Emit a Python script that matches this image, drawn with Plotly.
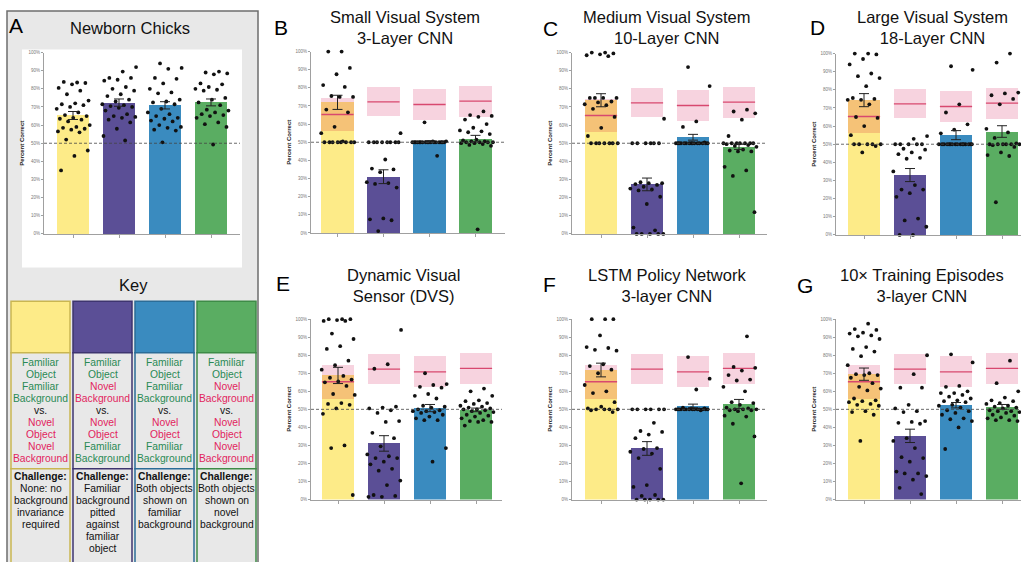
import plotly.graph_objects as go

# ------------------------------------------------------------------ data
categories = ["FO-FB vs NO-NB", "FO-NB vs NO-FB", "FO-FB vs NO-FB", "FO-NB vs NO-NB"]
bar_colors = ["#FDEB88", "#5B4F96", "#3A8BBF", "#5AAD62"]
tick_values = [0, 10, 20, 30, 40, 50, 60, 70, 80, 90, 100]
tick_labels = [f"{v}%" for v in tick_values]
chance_level = 50

# newborn-chick reference (red line = mean, pink band = range) shown on model panels
chick_mean = [65.3, 72.3, 70.8, 72.7]
chick_band_low = [56.0, 64.2, 62.2, 64.0]
chick_band_high = [74.5, 80.5, 79.5, 81.0]

panel_titles = {
    "A": "Newborn Chicks",
    "B": "Small Visual System<br>3-Layer CNN",
    "C": "Medium Visual System<br>10-Layer CNN",
    "D": "Large Visual System<br>18-Layer CNN",
    "E": "Dynamic Visual<br>Sensor (DVS)",
    "F": "LSTM Policy Network<br>3-layer CNN",
    "G": "10× Training Episodes<br>3-layer CNN",
}

A_means = [65.3, 72.4, 70.9, 72.5]
A_sems = [2.2, 2.0, 2.0, 1.9]
A_points = [
    [83.5, 83.8, 83.2, 82.5, 80.5, 79, 77, 73.5, 72, 71.5, 71, 70, 69, 67, 65.5, 65, 64, 63.5, 63, 62, 60, 59, 58.5, 58, 57.5, 56.5, 56, 52, 46, 43, 35],
    [92, 89.5, 86, 86, 85, 84.5, 81, 80, 79, 77, 76, 74, 73, 71.5, 71, 70.5, 70, 69.5, 68, 66, 65, 64.5, 64, 63, 61.5, 58, 54, 51.5],
    [94, 91.5, 91, 86, 85.5, 83, 80, 78, 77.5, 74, 73, 72.5, 71.5, 69, 67, 66, 65, 64, 63.5, 62.5, 62, 60, 59, 58.5, 57.5, 57, 50.5],
    [89.5, 89, 88.5, 88, 83, 82.5, 81, 80, 79.5, 79, 75, 74, 72.5, 71, 68.5, 68, 67, 66, 65.5, 65, 64, 61.5, 60.5, 59, 49.3],
]

B_means = [72.0, 31.0, 50.3, 52.0]
B_sems = [3.9, 3.8, 0.5, 1.8]
B_points = [
    [100, 100, 91, 87.5, 81.5, 80.5, 75.5, 75, 75, 68, 66.5, 58.5, 55, 50.5, 50, 50, 50, 50, 50, 50, 50, 50],
    [55, 50, 50, 50, 50, 50, 50, 50, 50, 40.5, 35.5, 35, 33.5, 28, 27.5, 27, 25, 8, 7.5, 7, 1],
    [61, 50.5, 50.5, 50, 50, 50, 50, 50, 50, 50, 50, 50, 50, 50, 50, 50, 50, 50, 50, 50, 42.5],
    [67, 65, 64.5, 64, 62.5, 60, 58, 56.5, 56, 55.5, 54.5, 51.5, 51, 50.5, 50.5, 50, 50, 50, 50, 49.5, 49.5, 49, 48.5, 48, 2],
]

C_means = [73.7, 27.3, 53.3, 48.0]
C_sems = [3.6, 3.5, 1.6, 1.4]
C_points = [
    [100, 100, 99.5, 99, 98.5, 98, 75, 75, 75, 75, 73, 72.5, 71.5, 71, 69, 64.5, 58.5, 54, 50, 50, 50, 50, 50, 50, 50],
    [63.5, 50, 50, 50, 50, 50, 50, 28.5, 28, 28, 27.5, 27, 26, 25, 24.5, 24, 20.5, 16.5, 3.5, 2, 0, 0, 0, 0, 0],
    [92, 81.5, 62, 59, 50.5, 50, 50, 50, 50, 50, 50, 50, 50, 50, 50, 50, 50, 50, 50, 50],
    [68.5, 67.5, 66.5, 63, 54, 50, 50, 50, 50, 50, 50, 50, 49.5, 49, 48.5, 48, 46.5, 46, 45.5, 45.5, 37, 35, 32, 12],
]

D_means = [74.3, 33.0, 55.0, 57.0]
D_sems = [3.6, 3.6, 2.5, 3.2]
D_points = [
    [100, 100, 99.5, 97, 94, 89, 87.5, 86.5, 82, 75.5, 75, 74.5, 74.5, 72, 65, 64.5, 60, 55, 50, 50, 50, 50, 50, 49, 45.5],
    [54.5, 53, 50, 50, 50, 50, 50, 47.5, 47, 45.5, 44.5, 42.5, 42, 35, 27.5, 25, 25, 23, 21, 9, 8, 4.5, 0, 0],
    [93, 91, 72, 67.5, 61, 58, 56, 50, 50, 50, 50, 50, 50, 50, 50, 50, 50, 50, 50, 50, 50, 50, 50],
    [100, 95, 78.5, 78, 77, 75, 72, 58.5, 56.5, 53.5, 50.5, 50, 50, 50, 50, 50, 50, 49.5, 48.5, 45.5, 44, 43.5, 18],
]

E_means = [68.8, 31.1, 50.7, 49.7]
E_sems = [4.5, 4.3, 2.0, 1.0]
E_points = [
    [100, 100, 100, 99.5, 99, 99, 92, 89, 85, 83.5, 77, 74.5, 72, 68.5, 67.5, 66.5, 65.5, 65, 63, 58.5, 58, 53.5, 53, 52.5, 50.5, 47.5, 30, 28.5, 2.5],
    [94, 75, 72.5, 51.5, 51, 50.5, 49.5, 48, 43.5, 43, 37, 34, 29.5, 25, 24, 23, 23, 21, 19.5, 17, 16, 10.5, 8, 2.5, 2, 1.5, 1.5],
    [70, 64, 63.5, 62.5, 62, 58.5, 57.5, 56, 52, 51.5, 51, 50, 49.5, 49, 49, 48.5, 48, 47, 46, 45, 44, 44, 28.5, 21],
    [61.5, 60, 57.5, 55, 54.5, 53.5, 53, 52, 51.5, 51, 50.5, 50, 50, 49.5, 49, 48.5, 48, 47, 46.5, 46, 45, 44, 43.5, 43, 43, 41],
]

F_means = [71.8, 28.3, 51.9, 53.0]
F_sems = [3.8, 3.8, 1.0, 2.5]
F_points = [
    [100, 100, 100, 91, 84.5, 84, 83, 82.5, 75, 74, 72, 70, 63.5, 60, 59, 54, 51.5, 50.5, 50, 50, 50, 50, 49.5, 48.5],
    [50, 50, 50, 50, 50, 50, 42.5, 38, 37.5, 36, 34, 28.5, 28, 26.5, 25.5, 23, 17, 8, 7, 2.5, 2, 0, 0, 0, 0, 0],
    [79, 67, 61, 51, 50.5, 50.5, 50, 50, 50, 50, 50, 50, 50, 50, 50, 50, 50, 50, 50, 50, 49.5],
    [90.5, 73.5, 73, 71.5, 69, 66.5, 66, 62.5, 60, 54, 53.5, 52.5, 51, 50.5, 50, 50, 50, 49.5, 49.5, 49, 46.5, 46, 42, 35, 9],
]

G_means = [69.5, 35.3, 52.3, 51.4]
G_sems = [3.4, 3.7, 1.5, 1.3]
G_points = [
    [97.5, 94.5, 94, 92.5, 92, 91, 90.5, 89, 84.5, 83.5, 82, 79.5, 74.5, 70, 69.5, 69, 69, 67.5, 64.5, 62.5, 61.5, 60.5, 56, 55, 54.5, 54, 53, 52.5, 52, 49, 48.5, 47, 32.5],
    [80, 69.5, 62, 62, 52.5, 50.5, 49, 48.5, 43.5, 43, 42.5, 42, 34, 32.5, 28.5, 23.5, 23, 21, 15.5, 14.5, 14.5, 13, 11, 6.5, 3],
    [80.5, 76, 63, 62.5, 60, 59, 59, 58, 57, 56, 55, 54.5, 54, 52.5, 52, 51, 49.5, 49, 48, 47, 45, 44.5, 43.5, 40, 28],
    [77, 64.5, 60, 56.5, 55, 54.5, 53.5, 53, 52, 51.5, 51, 50.5, 49.5, 49, 49, 48.5, 48, 47, 46.5, 45.5, 45, 44, 44, 43.5],
]

# key texts (G = familiar/green, R = novel/red, K = black)
key_desc = [
    [("Familiar", "G"), ("Object", "G"), ("Familiar", "G"), ("Background", "G"), ("vs.", "K"), ("Novel", "R"), ("Object", "R"), ("Novel", "R"), ("Background", "R")],
    [("Familiar", "G"), ("Object", "G"), ("Novel", "R"), ("Background", "R"), ("vs.", "K"), ("Novel", "R"), ("Object", "R"), ("Familiar", "G"), ("Background", "G")],
    [("Familiar", "G"), ("Object", "G"), ("Familiar", "G"), ("Background", "G"), ("vs.", "K"), ("Novel", "R"), ("Object", "R"), ("Familiar", "G"), ("Background", "G")],
    [("Familiar", "G"), ("Object", "G"), ("Novel", "R"), ("Background", "R"), ("vs.", "K"), ("Novel", "R"), ("Object", "R"), ("Novel", "R"), ("Background", "R")],
]
key_challenge = [
    ["None: no", "background", "invariance", "required"],
    ["Familiar", "background", "pitted", "against", "familiar", "object"],
    ["Both objects", "shown on", "familiar", "background"],
    ["Both objects", "shown on", "novel", "background"],
]

# ------------------------------------------------------------------ style / layout
W, H = 1021, 562
FONT = "Liberation Sans, Arial, Helvetica, sans-serif"
PINK = (247, 211, 223)
RED_LINE = "#D8486F"
TEXT_COLORS = {"G": "#2A8A55", "R": "#E2245E", "K": "#111111"}
key_border = ["#C9B651", "#3E356F", "#2B6C97", "#3E8B47"]
BAR_W = 0.7
PX_PER_CAT = 46.0

# (name, means, sems, points, show chick reference, (x_axis_px, first_center_px, x_end_px, y100_px, y0_px), title center, letter pos)
panels = [
    ("A", A_means, A_sems, A_points, False, (44, 73, 240, 51, 234), (130, 26), (16, 24)),
    ("B", B_means, B_sems, B_points, True, (311, 337.5, 505, 50, 233), (405, 26), (281, 26)),
    ("C", C_means, C_sems, C_points, True, (572, 601, 767, 51, 234), (667, 26), (550, 27)),
    ("D", D_means, D_sems, D_points, True, (836, 864, 1021, 52, 235), (932, 26), (817, 26)),
    ("E", E_means, E_sems, E_points, True, (311, 338, 502, 320, 502), (403, 286), (283, 284)),
    ("F", F_means, F_sems, F_points, True, (572, 601, 767, 320, 502), (667, 286), (549, 285)),
    ("G", G_means, G_sems, G_points, True, (836, 864, 1021, 320, 502), (922, 286), (805, 286)),
]


def hexrgb(h):
    h = h.lstrip("#")
    return tuple(int(h[i:i + 2], 16) for i in (0, 2, 4))


def multiply(c_hex, pink):
    c = hexrgb(c_hex)
    r = [round(a * b / 255) for a, b in zip(c, pink)]
    return "rgb({},{},{})".format(*r)


def px(x):
    return x / W


def py(y):
    return 1 - y / H


pink_css = "rgb({},{},{})".format(*PINK)

fig = go.Figure()
layout_axes = {}
shapes = []
annotations = []

# panel A grey frame and its white plot image
shapes.append(dict(type="rect", xref="paper", yref="paper", x0=px(7), x1=px(258), y0=py(575), y1=py(9),
                   fillcolor="#E8E8E8", line=dict(color="#6E6E6E", width=1.5), layer="below"))
shapes.append(dict(type="rect", xref="paper", yref="paper", x0=px(22), x1=px(242), y0=py(268), y1=py(48),
                   fillcolor="#FFFFFF", line=dict(width=0), layer="below"))

idx = [0, 1, 2, 3]
for n, (name, means, sems, pts, show_ref, geom, tpos, lpos) in enumerate(panels, start=1):
    x0, c0, xend, ytop, ybot = geom
    sfx = "" if n == 1 else str(n)
    xa, ya = "x" + sfx, "y" + sfx
    r0 = -(c0 - x0) / PX_PER_CAT
    r1 = (xend - c0) / PX_PER_CAT
    layout_axes["xaxis" + sfx] = dict(
        domain=[px(x0), min(1.0, px(xend))], range=[r0, r1], anchor=ya,
        showline=True, linecolor="#A0A0A0", linewidth=1, ticks="outside", ticklen=3,
        tickcolor="#A0A0A0", tickvals=idx, showticklabels=False, showgrid=False,
        zeroline=False, fixedrange=True)
    layout_axes["yaxis" + sfx] = dict(
        domain=[py(ybot), py(ytop)], range=[0, 100], anchor=xa,
        showline=True, linecolor="#A0A0A0", linewidth=1, ticks="outside", ticklen=2,
        tickcolor="#A0A0A0", tickvals=tick_values, ticktext=tick_labels,
        tickfont=dict(size=4.5, color="#777777", family=FONT),
        title=dict(text="<b>Percent Correct</b>", font=dict(size=6, color="#222222", family=FONT), standoff=3),
        showgrid=False, zeroline=False, fixedrange=True)

    if show_ref:
        fig.add_trace(go.Bar(x=idx, y=[h - l for h, l in zip(chick_band_high, chick_band_low)],
                             base=chick_band_low, width=BAR_W, xaxis=xa, yaxis=ya,
                             marker=dict(color=pink_css, line=dict(width=0)), opacity=1,
                             showlegend=False, hoverinfo="skip"))
    fig.add_trace(go.Bar(x=idx, y=means, width=BAR_W, xaxis=xa, yaxis=ya,
                         marker=dict(color=bar_colors, line=dict(width=0)), opacity=1,
                         showlegend=False, hoverinfo="skip"))
    if show_ref:
        overlap = [max(0.0, min(m, hi) - lo) for m, lo, hi in zip(means, chick_band_low, chick_band_high)]
        fig.add_trace(go.Bar(x=idx, y=overlap, base=chick_band_low, width=BAR_W, xaxis=xa, yaxis=ya,
                             marker=dict(color=[multiply(c, PINK) for c in bar_colors], line=dict(width=0)),
                             opacity=1, showlegend=False, hoverinfo="skip"))
        lx, ly = [], []
        for i, m in enumerate(chick_mean):
            lx += [i - BAR_W / 2, i + BAR_W / 2, None]
            ly += [m, m, None]
        fig.add_trace(go.Scatter(x=lx, y=ly, mode="lines", xaxis=xa, yaxis=ya,
                                 line=dict(color=RED_LINE, width=1.3), showlegend=False, hoverinfo="skip"))

    # individual subjects, deterministic spread across the bar width
    dx, dy = [], []
    for ci, vals in enumerate(pts):
        for k, v in enumerate(vals):
            off = (((k + 1) * 0.6180339887 + 0.37 * ci) % 1.0 - 0.5) * 0.76
            dx.append(ci + off)
            dy.append(v)
    fig.add_trace(go.Scatter(x=dx, y=dy, mode="markers", xaxis=xa, yaxis=ya, cliponaxis=False,
                             marker=dict(color="#111111", size=3.8, line=dict(width=0)),
                             showlegend=False, hoverinfo="skip"))
    # SEM error bars
    fig.add_trace(go.Scatter(x=idx, y=means, mode="markers", xaxis=xa, yaxis=ya, cliponaxis=False,
                             marker=dict(size=1, color="rgba(0,0,0,0)"),
                             error_y=dict(type="data", array=sems, visible=True, color="#222222",
                                          thickness=1, width=5),
                             showlegend=False, hoverinfo="skip"))

    shapes.append(dict(type="line", xref=xa + " domain", yref=ya, x0=0, x1=1,
                       y0=chance_level, y1=chance_level,
                       line=dict(color="#444444", width=0.8, dash="3px,2px"), layer="above"))

    annotations.append(dict(text=panel_titles[name], x=px(tpos[0]), y=py(tpos[1]), xref="paper", yref="paper",
                            xanchor="center", yanchor="middle", showarrow=False,
                            font=dict(size=16.5, color="#111111", family=FONT)))
    annotations.append(dict(text=name, x=px(lpos[0]), y=py(lpos[1]), xref="paper", yref="paper",
                            xanchor="center", yanchor="middle", showarrow=False,
                            font=dict(size=21, color="#000000", family=FONT)))

# ------------------------------------------------------------------ key
annotations.append(dict(text="Key", x=px(133), y=py(286), xref="paper", yref="paper", xanchor="center",
                        yanchor="middle", showarrow=False, font=dict(size=16.5, color="#111111", family=FONT)))
key_cols = [(11, 70), (73, 132), (135, 194), (197, 256)]
for ci, (kx0, kx1) in enumerate(key_cols):
    bc = key_border[ci]
    shapes.append(dict(type="rect", xref="paper", yref="paper", x0=px(kx0), x1=px(kx1), y0=py(354), y1=py(302),
                       fillcolor=bar_colors[ci], line=dict(color=bc, width=1.5), layer="below"))
    shapes.append(dict(type="rect", xref="paper", yref="paper", x0=px(kx0), x1=px(kx1), y0=py(471), y1=py(354),
                       fillcolor="#E8E8E8", line=dict(color=bc, width=1.5), layer="below"))
    shapes.append(dict(type="rect", xref="paper", yref="paper", x0=px(kx0), x1=px(kx1), y0=py(580), y1=py(471),
                       fillcolor="#E8E8E8", line=dict(color=bc, width=1.5), layer="below"))
    cx = (kx0 + kx1) / 2
    for li, (word, col) in enumerate(key_desc[ci]):
        annotations.append(dict(text=word, x=px(cx), y=py(364 + 12.1 * li), xref="paper", yref="paper",
                                xanchor="center", yanchor="middle", showarrow=False,
                                font=dict(size=10.3, color=TEXT_COLORS[col], family=FONT)))
    annotations.append(dict(text="<b>Challenge:</b>", x=px(cx), y=py(479), xref="paper", yref="paper",
                            xanchor="center", yanchor="middle", showarrow=False,
                            font=dict(size=10.3, color="#111111", family=FONT)))
    for li, line in enumerate(key_challenge[ci]):
        annotations.append(dict(text=line, x=px(cx), y=py(491 + 12 * li), xref="paper", yref="paper",
                                xanchor="center", yanchor="middle", showarrow=False,
                                font=dict(size=10.3, color="#111111", family=FONT)))

fig.update_layout(
    width=W, height=H, margin=dict(l=0, r=0, t=0, b=0),
    paper_bgcolor="#FFFFFF", plot_bgcolor="rgba(0,0,0,0)",
    barmode="overlay", bargap=0, showlegend=False,
    font=dict(family=FONT),
    shapes=shapes, annotations=annotations,
    **layout_axes,
)

fig.write_html("out.html", config={"displayModeBar": False, "staticPlot": True},
               post_script="document.body.style.margin='0';document.body.style.overflow='hidden';")
